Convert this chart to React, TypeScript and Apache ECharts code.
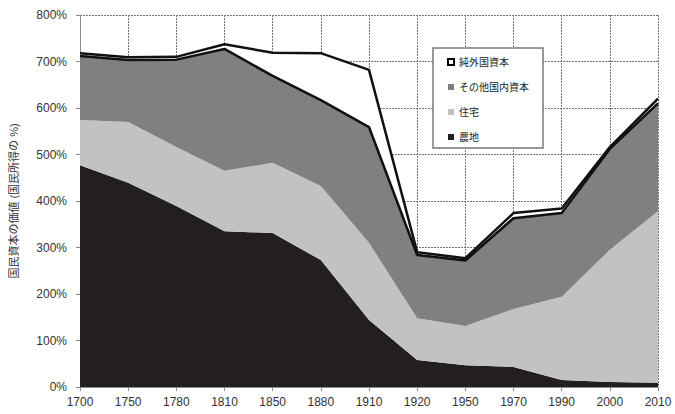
import React, { useEffect, useRef } from "react";
import * as echarts from "echarts";

const years = ["1700", "1750", "1780", "1810", "1850", "1880", "1910", "1920", "1950", "1970", "1990", "2000", "2010"];
const land = [477, 439, 389, 335, 331, 273, 144, 58, 47, 43, 15, 11, 9];
const housing = [97, 131, 127, 130, 151, 159, 166, 90, 84, 125, 179, 284, 369];
const otherDomestic = [138, 133, 188, 262, 187, 185, 249, 136, 141, 195, 180, 217, 232];
const netForeign = [6, 6, 6, 10, 50, 101, 123, 6, 5, 11, 10, 4, 10];
const yTicks = [0, 100, 200, 300, 400, 500, 600, 700, 800];

const FONT = "'Liberation Sans', 'Noto Sans CJK JP', Arial, sans-serif";

export default function App() {
  const ref = useRef<HTMLDivElement>(null);
  useEffect(() => {
    if (!ref.current) return;
    const chart = echarts.init(ref.current, undefined, { renderer: "svg" });
    const gridLine = { show: true, lineStyle: { color: "#767676", type: [2, 1] as any, width: 1 } };
    chart.setOption({
      animation: false,
      backgroundColor: "#fff",
      textStyle: { fontFamily: FONT },
      grid: { left: 68, right: 17, top: 15, bottom: 27 },
      legend: {
        orient: "vertical",
        left: 433,
        top: 48,
        icon: "rect",
        itemWidth: 6,
        itemHeight: 6,
        itemGap: 13,
        padding: [8, 14, 5, 14],
        backgroundColor: "#fff",
        borderColor: "#7a7a7a",
        borderWidth: 1.5,
        textStyle: { fontSize: 10, lineHeight: 12, color: "#222", fontFamily: FONT },
        data: [
          { name: "純外国資本", itemStyle: { color: "#fff", borderColor: "#000", borderWidth: 2 } },
          { name: "その他国内資本", itemStyle: { color: "#808083", borderWidth: 0 } },
          { name: "住宅", itemStyle: { color: "#c1c2c4", borderWidth: 0 } },
          { name: "農地", itemStyle: { color: "#231f20", borderWidth: 0 } },
        ],
      },
      xAxis: {
        type: "category",
        data: years,
        boundaryGap: false,
        axisLine: { lineStyle: { color: "#8a8a8a" } },
        axisTick: { show: true, length: 4, lineStyle: { color: "#8a8a8a" } },
        axisLabel: { fontSize: 12, color: "#333", margin: 9 },
        splitLine: gridLine,
      },
      yAxis: {
        type: "value",
        min: yTicks[0],
        max: yTicks[yTicks.length - 1],
        interval: 100,
        name: "国民資本の価値 (国民所得の %)",
        nameLocation: "middle",
        nameRotate: 90,
        nameGap: 61,
        nameTextStyle: { fontSize: 11, color: "#333" },
        axisLine: { show: true, lineStyle: { color: "#8a8a8a" } },
        axisTick: { show: true, length: 4, lineStyle: { color: "#8a8a8a" } },
        axisLabel: { fontSize: 12, color: "#333", margin: 13, formatter: "{value}%" },
        splitLine: gridLine,
      },
      series: [
        {
          name: "農地",
          type: "line",
          stack: "total",
          data: land,
          showSymbol: false,
          itemStyle: { color: "#231f20" },
          lineStyle: { width: 0 },
          areaStyle: { color: "#231f20", opacity: 1 },
          z: 2,
        },
        {
          name: "住宅",
          type: "line",
          stack: "total",
          data: housing,
          showSymbol: false,
          itemStyle: { color: "#c1c2c4" },
          lineStyle: { width: 0 },
          areaStyle: { color: "#c1c2c4", opacity: 1 },
          z: 2,
        },
        {
          name: "その他国内資本",
          type: "line",
          stack: "total",
          data: otherDomestic,
          showSymbol: false,
          itemStyle: { color: "#808083" },
          lineStyle: { width: 2.5, color: "#111" },
          areaStyle: { color: "#808083", opacity: 1 },
          z: 3,
        },
        {
          name: "純外国資本",
          type: "line",
          stack: "total",
          data: netForeign,
          showSymbol: false,
          itemStyle: { color: "#fff" },
          lineStyle: { width: 2.5, color: "#111" },
          areaStyle: { color: "#fff", opacity: 1 },
          z: 2,
        },
      ],
    });
    return () => chart.dispose();
  }, []);
  return (
    <div
      ref={ref}
      style={{ position: "fixed", left: 0, top: 0, width: 675, height: 414, background: "#fff" }}
    />
  );
}
